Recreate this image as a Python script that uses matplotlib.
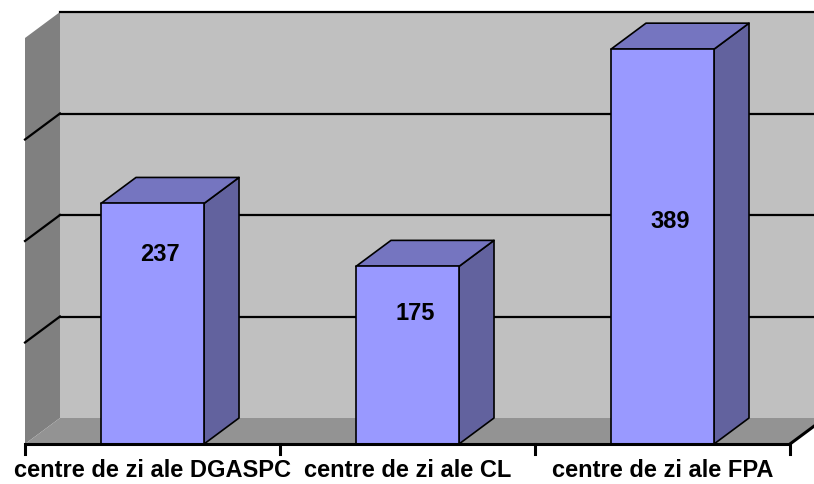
import matplotlib
matplotlib.use("Agg")
import matplotlib.pyplot as plt
from matplotlib.patches import Polygon

# data
categories = ["centre de zi ale DGASPC", "centre de zi ale CL", "centre de zi ale FPA"]
values = [237, 175, 389]
grid_values = [100, 200, 300, 400]
# where Excel put the value labels inside the bars (in value units)
label_y = [187, 129, 219]

FRONT = "#9999FF"
TOP = "#7575C0"
SIDE = "#62629E"
WALL = "#C0C0C0"
LEFT_WALL = "#808080"
FLOOR = "#939393"

W, H = 814, 484
fig = plt.figure(figsize=(W / 100, H / 100), dpi=100)
ax = fig.add_axes([0, 0, 1, 1])
ax.axis("off")

# pixel layout of the front plane: x=0 at px 25, one category = 255 px,
# value 0 at py 444 (from top), 100 units = 101.5 px
px_per_cat = 255.0
px_per_val = 1.015
ax.set_xlim(-25 / px_per_cat, (W - 25) / px_per_cat)
ax.set_ylim(-(H - 444) / px_per_val, 444 / px_per_val)

DX = 35 / px_per_cat   # depth offset
DY = 26 / px_per_val
ncat = len(categories)
vmax = grid_values[-1]
far = ncat + 2  # back wall runs off the right edge

# back wall
ax.add_patch(Polygon([(DX, DY), (far, DY), (far, vmax + DY), (DX, vmax + DY)],
                     closed=True, fc=WALL, ec="none", zorder=1))
# left wall
ax.add_patch(Polygon([(0, 0), (DX, DY), (DX, vmax + DY), (0, vmax)],
                     closed=True, fc=LEFT_WALL, ec="none", zorder=1))
# floor
ax.add_patch(Polygon([(0, 0), (ncat, 0), (ncat + DX, DY), (DX, DY)],
                     closed=True, fc=FLOOR, ec="none", zorder=1))

# gridlines on back and left walls
for g in grid_values:
    ax.plot([DX, far], [g + DY, g + DY], color="black", lw=1.6, zorder=2)
    if g < vmax:
        ax.plot([0, DX], [g, g + DY], color="black", lw=1.6, zorder=2)

# bars
bar_w = 0.404
for i, v in enumerate(values):
    xl = i + 0.5 - bar_w / 2
    xr = i + 0.5 + bar_w / 2
    ec = dict(ec="black", lw=1.2, joinstyle="round")
    ax.add_patch(Polygon([(xr, 0), (xr + DX, DY), (xr + DX, v + DY), (xr, v)],
                         closed=True, fc=SIDE, zorder=3, **ec))
    ax.add_patch(Polygon([(xl, v), (xl + DX, v + DY), (xr + DX, v + DY), (xr, v)],
                         closed=True, fc=TOP, zorder=3, **ec))
    ax.add_patch(Polygon([(xl, 0), (xr, 0), (xr, v), (xl, v)],
                         closed=True, fc=FRONT, zorder=4, **ec))
    ax.text(i + 0.53, label_y[i], str(v), ha="center", va="center",
            fontsize=17, fontweight="bold", family="Liberation Sans", zorder=5)

# category axis
ax.plot([0, ncat], [0, 0], color="black", lw=2.2, zorder=5, solid_capstyle="butt")
ax.plot([ncat, ncat + DX * 0.7], [0, DY * 0.7], color="black", lw=2.2, zorder=5)
for k in range(ncat + 1):
    ax.plot([k, k], [0, -10], color="black", lw=2.2, zorder=5)
for i, c in enumerate(categories):
    ax.text(i + 0.5, -33, c, ha="center", va="baseline",
            fontsize=17, fontweight="bold", family="Liberation Sans")

fig.savefig("out.png", dpi=100)
